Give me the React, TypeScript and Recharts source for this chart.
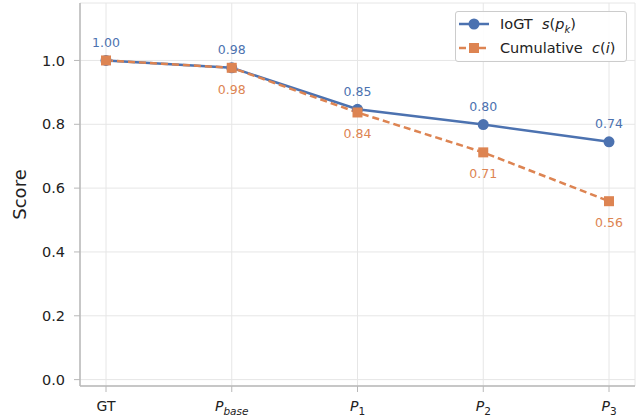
import React from 'react';
import { LineChart, Line, XAxis, YAxis, CartesianGrid } from 'recharts';

const categories = ['GT', 'P_base', 'P_1', 'P_2', 'P_3'];
const iogt = [1.0, 0.977, 0.847, 0.799, 0.745];
const cumulative = [1.0, 0.977, 0.837, 0.712, 0.559];
const yTicks = [0, 0.2, 0.4, 0.6, 0.8, 1.0];

const data = categories.map((c, i) => ({ cat: c, iogt: iogt[i], cum: cumulative[i] }));

const BLUE = '#4c72b0';
const ORANGE = '#dd8452';
const FONT = 'DejaVu Sans, sans-serif';

const XTick = (props: any) => {
  const { x, y, payload } = props;
  const v: string = payload.value;
  const ty = y + 17;
  if (v === 'GT') {
    return <text x={x} y={ty} textAnchor="middle" fontFamily={FONT} fontSize={14} fill="#222">GT</text>;
  }
  const sub = v.split('_')[1];
  const italicSub = sub === 'base';
  return (
    <text x={x} y={ty} textAnchor="middle" fontFamily={FONT} fontSize={14} fill="#222">
      <tspan fontStyle="italic">P</tspan>
      <tspan fontSize={10.5} dy={3.5} fontStyle={italicSub ? 'italic' : 'normal'}>{sub}</tspan>
    </text>
  );
};

const blueLabel = (props: any) => {
  const { x, y, value } = props;
  return <text x={x} y={y - 13.5} textAnchor="middle" fontFamily={FONT} fontSize={12.5} fill={BLUE}>{value.toFixed(2)}</text>;
};
const orangeLabel = (props: any) => {
  const { x, y, value, index } = props;
  if (index === 0) return <g />;
  return <text x={x} y={y + 26} textAnchor="middle" fontFamily={FONT} fontSize={12.5} fill={ORANGE}>{value.toFixed(2)}</text>;
};

const LegendBox = () => (
  <div style={{
    position: 'absolute', left: 455, top: 11, width: 172, height: 51, boxSizing: 'border-box',
    border: '1px solid #cccccc', borderRadius: 3, background: 'rgba(255,255,255,0.9)',
    padding: '0px 4px 0px 2px', fontFamily: FONT, fontSize: 14.5, color: '#222', lineHeight: '24px',
  }}>
    <div style={{ display: 'flex', alignItems: 'center', height: 24 }}>
      <svg width={32} height={14} style={{ marginRight: 10 }}>
        <line x1={1} y1={7} x2={31} y2={7} stroke={BLUE} strokeWidth={2.5} />
        <circle cx={16} cy={7} r={5.5} fill={BLUE} />
      </svg>
      <span>IoGT&nbsp;&nbsp;<i>s</i>(<i>p<sub style={{ fontSize: 10, lineHeight: 0 }}>k</sub></i>)</span>
    </div>
    <div style={{ display: 'flex', alignItems: 'center', height: 24 }}>
      <svg width={32} height={14} style={{ marginRight: 10 }}>
        <line x1={1} y1={7} x2={31} y2={7} stroke={ORANGE} strokeWidth={2.5} strokeDasharray="7 3" />
        <rect x={11} y={2} width={10} height={10} fill={ORANGE} />
      </svg>
      <span>Cumulative&nbsp;&nbsp;<i>c</i>(<i>i</i>)</span>
    </div>
  </div>
);

const SquareDot = (props: any) => {
  const { cx, cy } = props;
  return <rect x={cx - 5} y={cy - 5} width={10} height={10} fill={ORANGE} />;
};

export default function App() {
  return (
    <div style={{ position: 'absolute', left: 0, top: 0, width: 638, height: 416, background: '#fff' }}>
      <LineChart width={638} height={416} data={data} margin={{ top: 3, right: 3, left: 0, bottom: 0 }}>
        <CartesianGrid stroke="#e6e6e6" strokeWidth={1} />
        <XAxis
          dataKey="cat"
          height={30}
          padding={{ left: 26, right: 26 }}
          tick={<XTick />}
          tickSize={6}
          axisLine={{ stroke: '#b8b8b8', strokeWidth: 1.5 }}
          tickLine={{ stroke: '#b8b8b8' }}
          interval={0}
        />
        <YAxis
          width={80}
          type="number"
          domain={[-0.02, 1.18]}
          ticks={yTicks}
          tickFormatter={(v: number) => v.toFixed(1)}
          tick={{ fontFamily: FONT, fontSize: 14.5, fill: '#222' }}
          tickSize={6}
          tickMargin={9}
          axisLine={{ stroke: '#b8b8b8', strokeWidth: 1.5 }}
          tickLine={{ stroke: '#b8b8b8' }}
          label={{ value: 'Score', angle: -90, position: 'insideLeft', offset: 20, style: { fontFamily: FONT, fontSize: 18, fill: '#222', textAnchor: 'middle' } }}
        />
        <Line
          type="linear"
          dataKey="iogt"
          stroke={BLUE}
          strokeWidth={2.5}
          dot={{ r: 5.5, fill: BLUE, stroke: BLUE, strokeWidth: 0 }}
          activeDot={false}
          label={blueLabel}
          isAnimationActive={false}
        />
        <Line
          type="linear"
          dataKey="cum"
          stroke={ORANGE}
          strokeWidth={2.5}
          strokeDasharray="7 4"
          dot={<SquareDot />}
          activeDot={false}
          label={orangeLabel}
          isAnimationActive={false}
        />
      </LineChart>
      <LegendBox />
    </div>
  );
}
